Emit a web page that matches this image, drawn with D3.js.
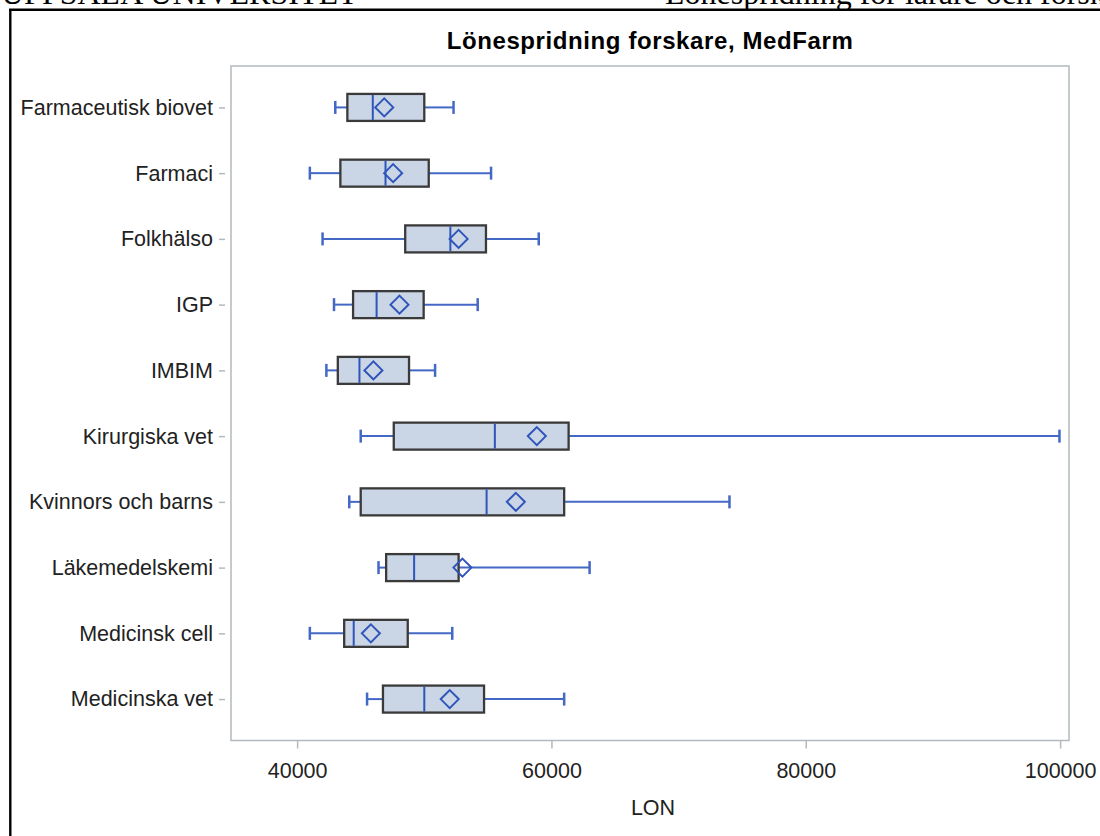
<!DOCTYPE html>
<html>
<head>
<meta charset="utf-8">
<script src="https://cdn.jsdelivr.net/npm/d3@7"></script>
<style>
html,body{margin:0;padding:0;background:#fff;}
svg{display:block;}
</style>
</head>
<body>
<svg id="chart" width="1100" height="836"></svg>
<script>
const categories = ["Farmaceutisk biovet","Farmaci","Folkhälso","IGP","IMBIM","Kirurgiska vet","Kvinnors och barns","Läkemedelskemi","Medicinsk cell","Medicinska vet"];
const whiskerLow  = [43000, 41000, 42000, 42900, 42300, 45000, 44100, 46400, 41000, 45500];
const q1          = [43950, 43400, 48500, 44400, 43200, 47600, 45000, 47000, 43700, 46750];
const median      = [45950, 46950, 52050, 46250, 44900, 55550, 54900, 49200, 44450, 50000];
const mean        = [46850, 47550, 52700, 48050, 46000, 58850, 57200, 53000, 45800, 52000];
const q3          = [50000, 50350, 54850, 49950, 48800, 61350, 61000, 52700, 48700, 54700];
const whiskerHigh = [52300, 55250, 59000, 54200, 50850, 99950, 74000, 63000, 52200, 61000];
const xTicks = [40000, 60000, 80000, 100000];
const titleText = "Lönespridning forskare, MedFarm";
const xLabel = "LON";
const headerLeft = "UPPSALA UNIVERSITET";
const headerRight = "Lönespridning för lärare och forskare";

const svg = d3.select("#chart");
const plot = {left: 231, right: 1069, top: 66, bottom: 740.5};
const sans = "'Liberation Sans', Arial, sans-serif";

// page header (cut off at the top)
svg.append("text").attr("x", 1).attr("y", 3.5)
  .attr("font-family", "'Liberation Serif', 'Times New Roman', serif").attr("font-size", 32)
  .text(headerLeft);
svg.append("text").attr("x", 665).attr("y", 3.5)
  .attr("font-family", "'Liberation Serif', 'Times New Roman', serif").attr("font-size", 32)
  .text(headerRight);
svg.append("line").attr("x1", 9).attr("x2", 1100).attr("y1", 9.8).attr("y2", 9.8)
  .attr("stroke", "#000").attr("stroke-width", 2.4);
svg.append("line").attr("x1", 10.3).attr("x2", 10.3).attr("y1", 9).attr("y2", 836)
  .attr("stroke", "#000").attr("stroke-width", 2.4);

const x = d3.scaleLinear().domain([34800, 100700]).range([plot.left, plot.right]);
const y = d3.scalePoint().domain(categories).range([plot.top, plot.bottom]).padding(0.63);

// title
svg.append("text").attr("x", (plot.left + plot.right) / 2).attr("y", 49)
  .attr("text-anchor", "middle").attr("font-family", sans).attr("font-weight", "bold")
  .attr("font-size", 24).attr("letter-spacing", 0.6).attr("fill", "#000").text(titleText);

// frame
svg.append("rect").attr("x", plot.left).attr("y", plot.top)
  .attr("width", plot.right - plot.left).attr("height", plot.bottom - plot.top)
  .attr("fill", "none").attr("stroke", "#b3b9bd").attr("stroke-width", 1.5);

// x axis
const xAxis = d3.axisBottom(x).tickValues(xTicks).tickFormat(d3.format("d")).tickSize(8).tickPadding(14);
const gx = svg.append("g").attr("transform", `translate(0,${plot.bottom})`).call(xAxis);
gx.select(".domain").remove();
gx.selectAll(".tick line").attr("stroke", "#b3b9bd").attr("stroke-width", 1.5);
gx.selectAll(".tick text").attr("font-family", sans).attr("font-size", 21.5).attr("fill", "#222");

svg.append("text").attr("x", 653).attr("y", 815).attr("text-anchor", "middle")
  .attr("font-family", sans).attr("font-size", 21.5).attr("fill", "#222").text(xLabel);

// y axis
const yAxis = d3.axisLeft(y).tickSize(6).tickPadding(6);
const gy = svg.append("g").attr("transform", `translate(${plot.left - 6},0)`).call(yAxis);
gy.select(".domain").remove();
gy.selectAll(".tick line").attr("stroke", "#b3b9bd").attr("stroke-width", 1.5);
gy.selectAll(".tick text").attr("font-family", sans).attr("font-size", 21.5).attr("fill", "#222");

// boxes
const rows = categories.map((c, i) => ({c, lo: whiskerLow[i], q1: q1[i], med: median[i], mean: mean[i], q3: q3[i], hi: whiskerHigh[i]}));
const blue = "#2f55bb";
const whiskerBlue = "#4468c6";
const halfBox = 13.5, halfCap = 6.5;

const g = svg.append("g");
const r = g.selectAll("g.row").data(rows).join("g").attr("class", "row");

r.append("line").attr("x1", d => x(d.lo)).attr("x2", d => x(d.q1))
  .attr("y1", d => y(d.c)).attr("y2", d => y(d.c)).attr("stroke", whiskerBlue).attr("stroke-width", 2);
r.append("line").attr("x1", d => x(d.q3)).attr("x2", d => x(d.hi))
  .attr("y1", d => y(d.c)).attr("y2", d => y(d.c)).attr("stroke", whiskerBlue).attr("stroke-width", 2);
r.append("line").attr("x1", d => x(d.lo)).attr("x2", d => x(d.lo))
  .attr("y1", d => y(d.c) - halfCap).attr("y2", d => y(d.c) + halfCap).attr("stroke", whiskerBlue).attr("stroke-width", 2.5);
r.append("line").attr("x1", d => x(d.hi)).attr("x2", d => x(d.hi))
  .attr("y1", d => y(d.c) - halfCap).attr("y2", d => y(d.c) + halfCap).attr("stroke", whiskerBlue).attr("stroke-width", 2.5);

r.append("rect").attr("x", d => x(d.q1)).attr("width", d => x(d.q3) - x(d.q1))
  .attr("y", d => y(d.c) - halfBox).attr("height", halfBox * 2)
  .attr("fill", "#cad5e5").attr("stroke", "#3a3a3a").attr("stroke-width", 2.3);

r.append("line").attr("x1", d => x(d.med)).attr("x2", d => x(d.med))
  .attr("y1", d => y(d.c) - halfBox + 1).attr("y2", d => y(d.c) + halfBox - 1)
  .attr("stroke", blue).attr("stroke-width", 2);

const dm = 9;
r.append("path")
  .attr("d", d => { const cx = x(d.mean), cy = y(d.c); return `M${cx},${cy - dm}L${cx + dm},${cy}L${cx},${cy + dm}L${cx - dm},${cy}Z`; })
  .attr("fill", "none").attr("stroke", blue).attr("stroke-width", 2);
</script>
</body>
</html>
